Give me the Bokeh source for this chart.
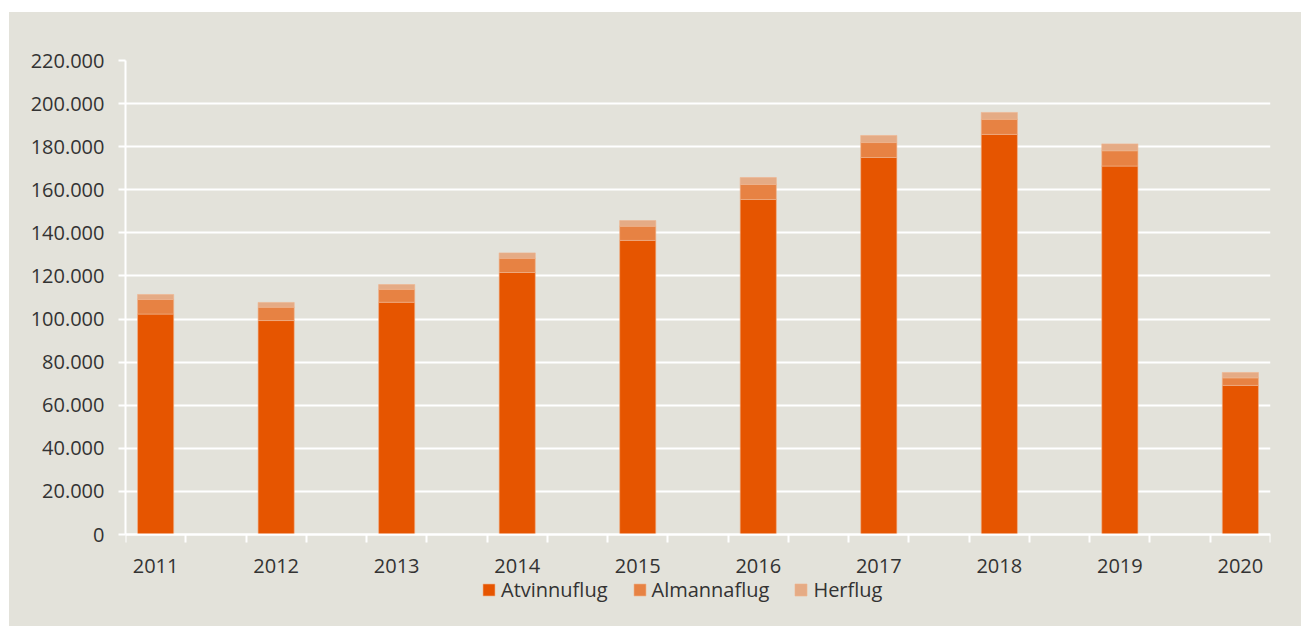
from bokeh.plotting import figure
from bokeh.models import ColumnDataSource, FixedTicker, Legend, LegendItem, Spacer
from bokeh.layouts import column, row
from bokeh.embed import file_html
from bokeh.resources import INLINE

years = ["2011", "2012", "2013", "2014", "2015", "2016", "2017", "2018", "2019", "2020"]
atvinnuflug = [102300, 99300, 107800, 121600, 136500, 155500, 175000, 185700, 171000, 69200]
almannaflug = [6800, 6200, 6000, 6600, 6600, 7000, 6900, 7000, 7100, 3500]
herflug = [2300, 2200, 2200, 2500, 2600, 3200, 3300, 3200, 3200, 2500]
series_names = ["Atvinnuflug", "Almannaflug", "Herflug"]
colors = ["#E65500", "#E78243", "#E5AB85"]
y_ticks = list(range(0, 220001, 20000))

BG = "#E3E2DA"
TXT = "#333333"
FONT = "Open Sans"

Y_MAX = 220000
PLOT_H = 474          # px between 0 and 220.000
EXTRA_H = 92          # px of room under the zero line for labels and legend
y_min = -Y_MAX * EXTRA_H / PLOT_H

# each year occupies every other slot on a 19-slot axis
xpos = [2 * i + 0.5 for i in range(len(years))]
src = ColumnDataSource(dict(x=xpos, Atvinnuflug=atvinnuflug,
                            Almannaflug=almannaflug, Herflug=herflug))

p = figure(frame_width=1145, frame_height=PLOT_H + EXTRA_H,
           x_range=(0, 19), y_range=(y_min, Y_MAX),
           output_backend="svg", toolbar_location=None,
           min_border_left=116, min_border_right=31,
           min_border_top=48, min_border_bottom=0)
p.background_fill_color = BG
p.border_fill_color = BG
p.outline_line_color = None

rs = p.vbar_stack(series_names, x="x", width=0.6, source=src,
                  color=colors, line_color="#F0B48E", line_alpha=0.6, line_width=1)

# axes
p.xgrid.grid_line_color = None
p.ygrid.grid_line_color = "white"
p.ygrid.grid_line_width = 2
p.ygrid.ticker = FixedTicker(ticks=y_ticks)

yax = p.yaxis[0]
yax.ticker = FixedTicker(ticks=y_ticks)
yax.bounds = (0, Y_MAX)
yax.major_label_overrides = {v: f"{v:,}".replace(",", ".") for v in y_ticks}
yax.axis_line_color = "white"
yax.axis_line_width = 2
yax.major_tick_line_color = "white"
yax.major_tick_line_width = 2
yax.major_tick_out = 7
yax.major_tick_in = 0
yax.minor_tick_line_color = None
yax.major_label_standoff = 14
yax.major_label_text_font = FONT
yax.major_label_text_font_size = "20px"
yax.major_label_text_color = TXT

xax = p.xaxis[0]
xax.fixed_location = 0
xax.ticker = FixedTicker(ticks=xpos, minor_ticks=list(range(0, 20)))
xax.major_label_overrides = {x: y for x, y in zip(xpos, years)}
xax.axis_line_color = "white"
xax.axis_line_width = 2
xax.major_tick_line_color = None
xax.major_tick_out = 0
xax.major_tick_in = 0
xax.minor_tick_line_color = "white"
xax.minor_tick_line_width = 2
xax.minor_tick_out = 8
xax.minor_tick_in = 0
xax.major_label_standoff = 16
xax.major_label_text_font = FONT
xax.major_label_text_font_size = "20px"
xax.major_label_text_color = TXT

legend = Legend(items=[LegendItem(label=n, renderers=[r]) for n, r in zip(series_names, rs)],
                orientation="horizontal", location=(356, 23),
                glyph_width=15, glyph_height=15, label_standoff=5, spacing=24,
                padding=0, margin=0, border_line_color=None,
                background_fill_alpha=0,
                label_text_font=FONT, label_text_font_size="20px",
                label_text_color=TXT, label_height=22)
p.add_layout(legend, "center")

plot_box = column(p, spacing=0, styles={"background-color": BG})
layout = row(Spacer(width=9), column(Spacer(height=12), plot_box, spacing=0), spacing=0)
open("out.html", "w").write(file_html(layout, INLINE))
